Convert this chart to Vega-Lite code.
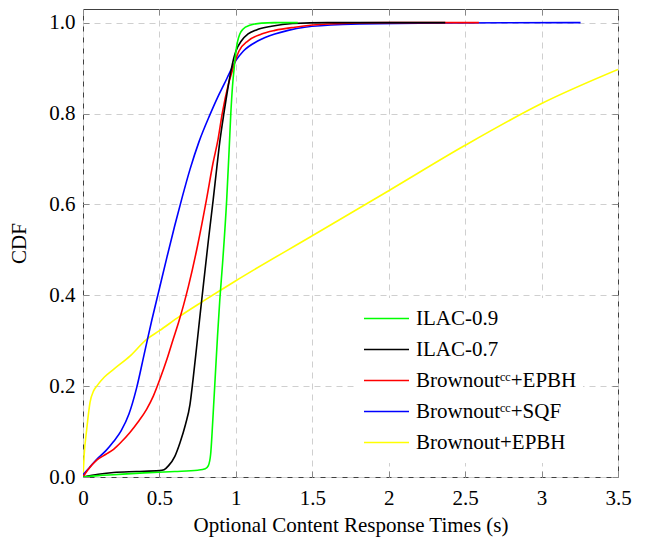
{
  "$schema": "https://vega.github.io/schema/vega-lite/v6.json",
  "width": 535,
  "height": 468,
  "autosize": {"type": "none"},
  "padding": {"left": 83, "top": 9, "right": 28, "bottom": 60},
  "background": "white",
  "config": {
    "font": "'Liberation Serif', 'Times New Roman', Times, 'DejaVu Serif', serif",
    "view": {"stroke": "#404040", "strokeWidth": 1},
    "axis": {"labelColor": "black", "titleColor": "black", "labelFont": "'Liberation Serif', 'Times New Roman', Times, 'DejaVu Serif', serif", "titleFont": "'Liberation Serif', 'Times New Roman', Times, 'DejaVu Serif', serif"},
    "legend": {"labelFont": "'Liberation Serif', 'Times New Roman', Times, 'DejaVu Serif', serif"}
  },
  "data": {
    "values": [
      {"series": "Brownout+EPBH", "t": 0, "cdf": 0},
      {"series": "Brownout+EPBH", "t": 0.008, "cdf": 0.05},
      {"series": "Brownout+EPBH", "t": 0.024, "cdf": 0.104},
      {"series": "Brownout+EPBH", "t": 0.046, "cdf": 0.164},
      {"series": "Brownout+EPBH", "t": 0.07, "cdf": 0.19},
      {"series": "Brownout+EPBH", "t": 0.09, "cdf": 0.2},
      {"series": "Brownout+EPBH", "t": 0.14, "cdf": 0.22},
      {"series": "Brownout+EPBH", "t": 0.2, "cdf": 0.237},
      {"series": "Brownout+EPBH", "t": 0.307, "cdf": 0.266},
      {"series": "Brownout+EPBH", "t": 0.416, "cdf": 0.303},
      {"series": "Brownout+EPBH", "t": 0.5, "cdf": 0.322},
      {"series": "Brownout+EPBH", "t": 0.634, "cdf": 0.354},
      {"series": "Brownout+EPBH", "t": 0.786, "cdf": 0.387},
      {"series": "Brownout+EPBH", "t": 1.0, "cdf": 0.432},
      {"series": "Brownout+EPBH", "t": 1.5, "cdf": 0.531},
      {"series": "Brownout+EPBH", "t": 2.0, "cdf": 0.63},
      {"series": "Brownout+EPBH", "t": 2.5, "cdf": 0.73},
      {"series": "Brownout+EPBH", "t": 3.0, "cdf": 0.822},
      {"series": "Brownout+EPBH", "t": 3.5, "cdf": 0.897},

      {"series": "Brownoutᶜᶜ+SQF", "t": 0, "cdf": 0.005},
      {"series": "Brownoutᶜᶜ+SQF", "t": 0.04, "cdf": 0.02},
      {"series": "Brownoutᶜᶜ+SQF", "t": 0.087, "cdf": 0.038},
      {"series": "Brownoutᶜᶜ+SQF", "t": 0.15, "cdf": 0.058},
      {"series": "Brownoutᶜᶜ+SQF", "t": 0.2, "cdf": 0.078},
      {"series": "Brownoutᶜᶜ+SQF", "t": 0.25, "cdf": 0.102},
      {"series": "Brownoutᶜᶜ+SQF", "t": 0.3, "cdf": 0.138},
      {"series": "Brownoutᶜᶜ+SQF", "t": 0.35, "cdf": 0.195},
      {"series": "Brownoutᶜᶜ+SQF", "t": 0.4, "cdf": 0.27},
      {"series": "Brownoutᶜᶜ+SQF", "t": 0.45, "cdf": 0.345},
      {"series": "Brownoutᶜᶜ+SQF", "t": 0.5, "cdf": 0.415},
      {"series": "Brownoutᶜᶜ+SQF", "t": 0.55, "cdf": 0.485},
      {"series": "Brownoutᶜᶜ+SQF", "t": 0.6, "cdf": 0.553},
      {"series": "Brownoutᶜᶜ+SQF", "t": 0.65, "cdf": 0.617},
      {"series": "Brownoutᶜᶜ+SQF", "t": 0.7, "cdf": 0.677},
      {"series": "Brownoutᶜᶜ+SQF", "t": 0.758, "cdf": 0.737},
      {"series": "Brownoutᶜᶜ+SQF", "t": 0.83, "cdf": 0.797},
      {"series": "Brownoutᶜᶜ+SQF", "t": 0.88, "cdf": 0.835},
      {"series": "Brownoutᶜᶜ+SQF", "t": 0.924, "cdf": 0.865},
      {"series": "Brownoutᶜᶜ+SQF", "t": 0.97, "cdf": 0.897},
      {"series": "Brownoutᶜᶜ+SQF", "t": 1.003, "cdf": 0.918},
      {"series": "Brownoutᶜᶜ+SQF", "t": 1.048, "cdf": 0.937},
      {"series": "Brownoutᶜᶜ+SQF", "t": 1.146, "cdf": 0.96},
      {"series": "Brownoutᶜᶜ+SQF", "t": 1.255, "cdf": 0.975},
      {"series": "Brownoutᶜᶜ+SQF", "t": 1.342, "cdf": 0.983},
      {"series": "Brownoutᶜᶜ+SQF", "t": 1.45, "cdf": 0.99},
      {"series": "Brownoutᶜᶜ+SQF", "t": 1.7, "cdf": 0.996},
      {"series": "Brownoutᶜᶜ+SQF", "t": 2.2, "cdf": 0.999},
      {"series": "Brownoutᶜᶜ+SQF", "t": 3.255, "cdf": 1.0},

      {"series": "Brownoutᶜᶜ+EPBH", "t": 0, "cdf": 0},
      {"series": "Brownoutᶜᶜ+EPBH", "t": 0.03, "cdf": 0.015},
      {"series": "Brownoutᶜᶜ+EPBH", "t": 0.09, "cdf": 0.037},
      {"series": "Brownoutᶜᶜ+EPBH", "t": 0.15, "cdf": 0.05},
      {"series": "Brownoutᶜᶜ+EPBH", "t": 0.2, "cdf": 0.061},
      {"series": "Brownoutᶜᶜ+EPBH", "t": 0.25, "cdf": 0.077},
      {"series": "Brownoutᶜᶜ+EPBH", "t": 0.307, "cdf": 0.098},
      {"series": "Brownoutᶜᶜ+EPBH", "t": 0.36, "cdf": 0.121},
      {"series": "Brownoutᶜᶜ+EPBH", "t": 0.416, "cdf": 0.149},
      {"series": "Brownoutᶜᶜ+EPBH", "t": 0.46, "cdf": 0.178},
      {"series": "Brownoutᶜᶜ+EPBH", "t": 0.503, "cdf": 0.215},
      {"series": "Brownoutᶜᶜ+EPBH", "t": 0.55, "cdf": 0.26},
      {"series": "Brownoutᶜᶜ+EPBH", "t": 0.59, "cdf": 0.303},
      {"series": "Brownoutᶜᶜ+EPBH", "t": 0.625, "cdf": 0.34},
      {"series": "Brownoutᶜᶜ+EPBH", "t": 0.656, "cdf": 0.376},
      {"series": "Brownoutᶜᶜ+EPBH", "t": 0.69, "cdf": 0.42},
      {"series": "Brownoutᶜᶜ+EPBH", "t": 0.75, "cdf": 0.51},
      {"series": "Brownoutᶜᶜ+EPBH", "t": 0.808, "cdf": 0.611},
      {"series": "Brownoutᶜᶜ+EPBH", "t": 0.85, "cdf": 0.69},
      {"series": "Brownoutᶜᶜ+EPBH", "t": 0.884, "cdf": 0.744},
      {"series": "Brownoutᶜᶜ+EPBH", "t": 0.911, "cdf": 0.8},
      {"series": "Brownoutᶜᶜ+EPBH", "t": 0.95, "cdf": 0.863},
      {"series": "Brownoutᶜᶜ+EPBH", "t": 0.982, "cdf": 0.9},
      {"series": "Brownoutᶜᶜ+EPBH", "t": 0.995, "cdf": 0.915},
      {"series": "Brownoutᶜᶜ+EPBH", "t": 1.02, "cdf": 0.937},
      {"series": "Brownoutᶜᶜ+EPBH", "t": 1.08, "cdf": 0.96},
      {"series": "Brownoutᶜᶜ+EPBH", "t": 1.168, "cdf": 0.975},
      {"series": "Brownoutᶜᶜ+EPBH", "t": 1.255, "cdf": 0.983},
      {"series": "Brownoutᶜᶜ+EPBH", "t": 1.386, "cdf": 0.99},
      {"series": "Brownoutᶜᶜ+EPBH", "t": 1.6, "cdf": 0.997},
      {"series": "Brownoutᶜᶜ+EPBH", "t": 2.0, "cdf": 1.0},
      {"series": "Brownoutᶜᶜ+EPBH", "t": 2.59, "cdf": 1.0},

      {"series": "ILAC-0.7", "t": 0, "cdf": 0},
      {"series": "ILAC-0.7", "t": 0.1, "cdf": 0.006},
      {"series": "ILAC-0.7", "t": 0.2, "cdf": 0.01},
      {"series": "ILAC-0.7", "t": 0.35, "cdf": 0.012},
      {"series": "ILAC-0.7", "t": 0.5, "cdf": 0.014},
      {"series": "ILAC-0.7", "t": 0.53, "cdf": 0.016},
      {"series": "ILAC-0.7", "t": 0.56, "cdf": 0.025},
      {"series": "ILAC-0.7", "t": 0.6, "cdf": 0.045},
      {"series": "ILAC-0.7", "t": 0.634, "cdf": 0.075},
      {"series": "ILAC-0.7", "t": 0.67, "cdf": 0.115},
      {"series": "ILAC-0.7", "t": 0.7, "cdf": 0.16},
      {"series": "ILAC-0.7", "t": 0.72, "cdf": 0.215},
      {"series": "ILAC-0.7", "t": 0.743, "cdf": 0.285},
      {"series": "ILAC-0.7", "t": 0.767, "cdf": 0.36},
      {"series": "ILAC-0.7", "t": 0.79, "cdf": 0.43},
      {"series": "ILAC-0.7", "t": 0.82, "cdf": 0.52},
      {"series": "ILAC-0.7", "t": 0.852, "cdf": 0.611},
      {"series": "ILAC-0.7", "t": 0.875, "cdf": 0.68},
      {"series": "ILAC-0.7", "t": 0.895, "cdf": 0.738},
      {"series": "ILAC-0.7", "t": 0.924, "cdf": 0.805},
      {"series": "ILAC-0.7", "t": 0.95, "cdf": 0.86},
      {"series": "ILAC-0.7", "t": 0.97, "cdf": 0.897},
      {"series": "ILAC-0.7", "t": 0.985, "cdf": 0.92},
      {"series": "ILAC-0.7", "t": 1.0, "cdf": 0.937},
      {"series": "ILAC-0.7", "t": 1.037, "cdf": 0.96},
      {"series": "ILAC-0.7", "t": 1.08, "cdf": 0.975},
      {"series": "ILAC-0.7", "t": 1.135, "cdf": 0.984},
      {"series": "ILAC-0.7", "t": 1.233, "cdf": 0.992},
      {"series": "ILAC-0.7", "t": 1.37, "cdf": 0.998},
      {"series": "ILAC-0.7", "t": 1.6, "cdf": 1.0},
      {"series": "ILAC-0.7", "t": 2.37, "cdf": 1.0},

      {"series": "ILAC-0.9", "t": 0, "cdf": 0},
      {"series": "ILAC-0.9", "t": 0.1, "cdf": 0.003},
      {"series": "ILAC-0.9", "t": 0.2, "cdf": 0.005},
      {"series": "ILAC-0.9", "t": 0.4, "cdf": 0.009},
      {"series": "ILAC-0.9", "t": 0.6, "cdf": 0.012},
      {"series": "ILAC-0.9", "t": 0.75, "cdf": 0.015},
      {"series": "ILAC-0.9", "t": 0.8, "cdf": 0.018},
      {"series": "ILAC-0.9", "t": 0.82, "cdf": 0.025},
      {"series": "ILAC-0.9", "t": 0.835, "cdf": 0.05},
      {"series": "ILAC-0.9", "t": 0.845, "cdf": 0.1},
      {"series": "ILAC-0.9", "t": 0.855, "cdf": 0.16},
      {"series": "ILAC-0.9", "t": 0.865, "cdf": 0.22},
      {"series": "ILAC-0.9", "t": 0.88, "cdf": 0.31},
      {"series": "ILAC-0.9", "t": 0.895, "cdf": 0.39},
      {"series": "ILAC-0.9", "t": 0.913, "cdf": 0.47},
      {"series": "ILAC-0.9", "t": 0.94, "cdf": 0.61},
      {"series": "ILAC-0.9", "t": 0.956, "cdf": 0.72},
      {"series": "ILAC-0.9", "t": 0.967, "cdf": 0.8},
      {"series": "ILAC-0.9", "t": 0.978, "cdf": 0.86},
      {"series": "ILAC-0.9", "t": 0.989, "cdf": 0.9},
      {"series": "ILAC-0.9", "t": 1.0, "cdf": 0.935},
      {"series": "ILAC-0.9", "t": 1.011, "cdf": 0.958},
      {"series": "ILAC-0.9", "t": 1.026, "cdf": 0.975},
      {"series": "ILAC-0.9", "t": 1.048, "cdf": 0.986},
      {"series": "ILAC-0.9", "t": 1.09, "cdf": 0.994},
      {"series": "ILAC-0.9", "t": 1.168, "cdf": 0.999},
      {"series": "ILAC-0.9", "t": 1.25, "cdf": 1.0},
      {"series": "ILAC-0.9", "t": 1.405, "cdf": 1.0}
    ]
  },
  "layer": [
    {
      "mark": {"type": "line", "strokeWidth": 1.6, "interpolate": "monotone", "clip": true},
      "encoding": {
        "x": {
          "field": "t", "type": "quantitative",
          "scale": {"domain": [0, 3.5], "nice": false, "zero": false},
          "axis": {
            "orient": "bottom", "title": "Optional Content Response Times (s)",
            "values": [0, 0.5, 1, 1.5, 2, 2.5, 3, 3.5], "format": "~g",
            "grid": true, "gridColor": "#cfcfcf", "gridDash": [6, 5], "gridWidth": 1,
            "domain": false, "tickSize": -6, "tickColor": "#888888", "tickWidth": 1,
            "labelFontSize": 21, "labelPadding": 16, "labelFlush": false,
            "titleFontSize": 21, "titleFontWeight": "normal", "titlePadding": 6
          }
        },
        "y": {
          "field": "cdf", "type": "quantitative",
          "scale": {"domain": [0, 1.03], "nice": false, "zero": false},
          "axis": {
            "orient": "left", "title": "CDF",
            "values": [0, 0.2, 0.4, 0.6, 0.8, 1.0], "format": ".1f",
            "grid": true, "gridColor": "#cfcfcf", "gridDash": [6, 5], "gridWidth": 1,
            "domain": false, "tickSize": -6, "tickColor": "#888888", "tickWidth": 1,
            "labelFontSize": 21, "labelPadding": 14, "labelFlush": false,
            "titleFontSize": 21, "titleFontWeight": "normal", "titlePadding": 19
          }
        },
        "color": {
          "field": "series", "type": "nominal",
          "scale": {
            "domain": ["ILAC-0.9", "ILAC-0.7", "Brownoutᶜᶜ+EPBH", "Brownoutᶜᶜ+SQF", "Brownout+EPBH"],
            "range": ["#00ff00", "#000000", "#ff0000", "#0000ff", "#ffff00"]
          },
          "legend": {
            "orient": "none", "legendX": 274, "legendY": 289, "title": null,
            "symbolType": "stroke", "symbolSize": 2025, "symbolStrokeWidth": 1.6,
            "labelFontSize": 21, "labelColor": "black", "labelOffset": 6,
            "clipHeight": 29, "rowPadding": 2, "padding": 6, "fillColor": "white", "strokeColor": null,
            "labelLimit": 400
          }
        }
      }
    },
    {
      "mark": {"type": "line", "opacity": 0},
      "encoding": {
        "x": {
          "field": "t", "type": "quantitative",
          "scale": {"domain": [0, 3.5], "nice": false, "zero": false},
          "axis": {
            "orient": "top", "title": null, "values": [0, 0.5, 1, 1.5, 2, 2.5, 3, 3.5],
            "labels": false, "grid": false, "domain": false,
            "tickSize": -6, "tickColor": "#888888", "tickWidth": 1
          }
        },
        "y": {
          "field": "cdf", "type": "quantitative",
          "scale": {"domain": [0, 1.03], "nice": false, "zero": false},
          "axis": {
            "orient": "right", "title": null, "values": [0, 0.2, 0.4, 0.6, 0.8, 1.0],
            "labels": false, "grid": false, "domain": false,
            "tickSize": -6, "tickColor": "#888888", "tickWidth": 1
          }
        },
        "detail": {"field": "series", "type": "nominal"}
      }
    }
  ],
  "resolve": {"scale": {"x": "independent", "y": "independent"}}
}
